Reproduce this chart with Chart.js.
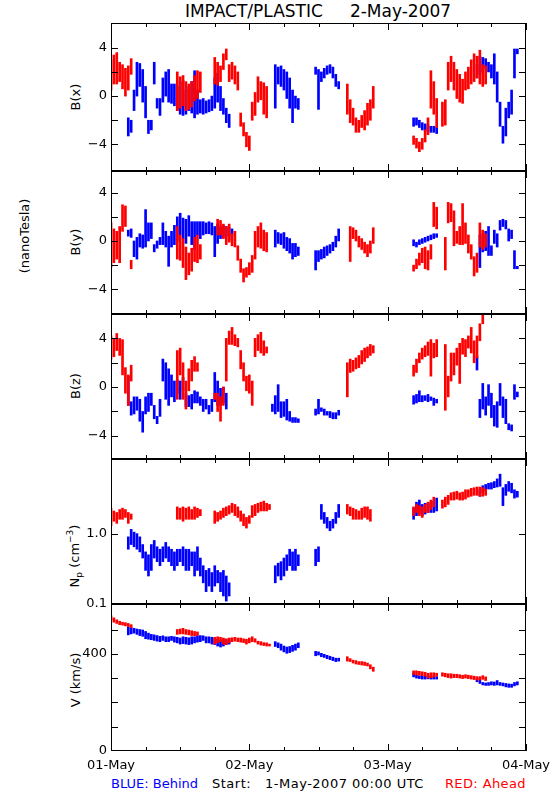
<!DOCTYPE html>
<html><head><meta charset="utf-8">
<script src="https://cdn.jsdelivr.net/npm/chart.js@4/dist/chart.umd.min.js"></script>
<style>
body{margin:0;width:550px;height:800px;background:#fff;position:relative;overflow:hidden;font-family:'DejaVu Sans',sans-serif;}
canvas{position:absolute;left:0;}
.t{position:absolute;white-space:pre;font-size:13px;line-height:1;color:#000;}
.r{transform:translate(-50%,-50%) rotate(-90deg);}
sub,sup{font-size:9px;line-height:0;}
</style></head><body>
<div class="t" id="title" style="left:318px;top:3px;font-size:17px;transform:translateX(-50%);">IMPACT/PLASTIC     2-May-2007</div>
<div class="t r" style="left:75px;top:97px;">B(x)</div>
<div class="t r" style="left:75px;top:242px;">B(y)</div>
<div class="t r" style="left:75px;top:386px;">B(z)</div>
<div class="t r" style="left:74px;top:556px;">N<sub>p</sub> (cm<sup>−3</sup>)</div>
<div class="t r" style="left:75px;top:680px;">V (km/s)</div>
<div class="t r" style="left:24px;top:236px;">(nanoTesla)</div>
<div class="t" style="left:111px;top:777px;color:#0000ff;">BLUE: Behind</div>
<div class="t" style="left:212px;top:777px;letter-spacing:0.5px;">Start:   1-May-2007 00:00 UTC</div>
<div class="t" style="right:24px;top:777px;color:#ff0000;letter-spacing:0.4px;">RED: Ahead</div>
<canvas id="c1"></canvas><canvas id="c2"></canvas><canvas id="c3"></canvas><canvas id="c4"></canvas><canvas id="c5"></canvas>
<script>
// ---- data: [hour since 1-May-2007 00:00, low, high] ----
const bxAhead = [[0,0.5,3.0],[0.5,1.0,3.4],[1,1.0,3.6],[1.5,1.2,2.8],[2,0.6,2.6],[2.5,0,2.3],[3,0.5,2.5],[3.5,1.8,3.1],
[11.5,-1.2,2.0],[12,-1.0,1.6],[12.5,-0.8,1.7],[13,-1.2,1.2],[13.5,-1.1,1.0],[14,-0.9,1.2],[14.5,-0.4,1.7],[15,-0.2,2.1],[15.5,0.3,2.0],
[18,1.0,3.2],[18.5,0.9,2.8],[19,1.2,2.5],[19.5,2.2,3.5],[20,3.0,3.9],[20.5,1.2,2.6],[21,1.4,2.8],[21.5,1.0,2.5],[22,0.5,2.0],[22.5,-2.5,-1.4],[23,-3.3,-2.2],[23.5,-4.2,-3.0],[24,-4.5,-3.3],[24.5,-2.0,-0.5],[25,-1.6,0.3],[25.5,-0.5,1.6],[26,-0.3,1.2],[26.5,-1.5,1.1],[27,-1.8,0.8],
[41,-1.5,1.0],[41.5,-2.2,-0.3],[42,-2.4,-1.0],[42.5,-3.0,-1.8],[43,-3.0,-2.0],[43.5,-2.6,-1.6],[44,-2.8,-1.2],[44.5,-2.4,-0.6],[45,-2.0,-0.3],[45.5,-1.0,0.8],
[52.5,-4.0,-3.3],[53,-4.3,-3.5],[53.5,-4.6,-3.8],[54,-4.4,-3.5],[54.5,-3.8,-2.8],[55,-3.2,-1.8],[55.5,-1.0,2.1],[56,-1.5,1.2],[56.5,-2.6,-0.2],[57.5,-2.5,-0.5],[58,-2.4,-0.3],[58.5,0.5,2.8],[59,1.2,3.3],[59.5,0.5,2.8],[60,-0.2,2.2],[60.5,-0.5,1.8],[61,-0.6,1.4],[61.5,0.5,2.0],[62,0.6,2.4],[62.5,1.0,3.0],[63,1.2,3.5],[63.5,1.5,3.3],[64,1.0,3.8],[64.5,0.8,2.6],[65,1.0,2.5]];
const bxBehind = [[3,-3.3,-1.8],[3.5,-3.0,-2.0],[4,-1.2,0.5],[4.5,0,2.8],[5,0.8,2.7],[5.5,-0.5,2.2],[6,-1.8,0.8],[6.5,-3.1,-2.0],[7,-2.8,-2.0],[7.5,1.0,2.8],[8,-1.0,-0.2],[8.5,-1.6,-0.2],[9,-0.5,1.5],[9.5,0,2.0],[10,-0.5,2.2],[10.5,-0.6,1.0],[11,-0.8,1.0],[11.5,-1.2,0.8],[12,-1.5,1.2],[12.5,-1.6,1.3],[13,-1.5,0.5],[13.5,-1.2,0.8],[14,-1.4,1.2],[14.5,-1.8,2.1],[15,-1.5,0.5],[15.5,-1.4,-0.3],[16,-1.5,-0.2],[16.5,-1.4,-0.4],[17,-1.3,-0.3],[17.5,-1.2,0],[18,-1.0,1.5],[18.5,-0.5,1.9],[19,-1.2,0.8],[19.5,-1.5,-0.2],[20,-2.2,-1.0],[20.5,-2.6,-1.5],
[28.5,-1.0,2.6],[29,1.0,2.4],[29.5,0.8,2.5],[30,0.5,2.2],[30.5,-0.2,2.0],[31,-1.0,1.5],[31.5,-2.2,0.5],[32,-1.0,0],[32.5,-1.1,-0.2],
[35.5,1.8,2.4],[36,-1.1,2.2],[36.5,1.2,2.0],[37,1.5,2.3],[37.5,1.8,2.5],[38,1.9,2.6],[38.5,1.5,2.4],[39,0.8,1.8],[39.5,0.6,1.2],
[52.5,-2.5,-1.8],[53,-2.4,-1.8],[53.5,-2.6,-2.0],[54,-2.8,-2.2],[54.5,-2.9,-2.3],[55,-2.9,-2.4],[55.5,-3.0,-2.5],[56,-3.0,-2.5],[56.5,-3.1,-2.6],
[63.5,1.5,2.6],[64,1.8,3.3],[64.5,2.0,3.2],[65,2.3,3.1],[65.5,2.0,2.8],[66,1.5,2.6],[66.5,1.0,3.5],[67,-0.5,2.0],[67.5,-2.5,-0.5],[68,-3.9,-2.5],[68.5,-3.3,-1.0],[69,-1.8,-0.5],[69.5,-1.5,0.5],[70,1.5,3.9],[70.5,3.5,3.9]];
const byAhead = [[0,-2.2,1.5],[0.5,-1.8,1.0],[1,-1.5,0.8],[1.5,-1.8,1.2],[2,0.8,3.0],[2.5,1.2,2.9],[3.5,-2.3,-1.6],
[11.5,-1.5,1.2],[12,-1.6,0.5],[12.5,-2.2,0.2],[13,-3.2,-0.5],[13.5,-2.8,-1.0],[14,-2.5,-0.6],[14.5,-1.7,0.3],[15,-1.8,0.5],[15.5,-1.5,-0.3],
[18.5,0.5,1.8],[19,0.5,1.7],[19.5,0.2,1.4],[20,-0.3,1.2],[20.5,-0.1,1.4],[21,-0.4,0.6],[21.5,-0.5,0.8],[22,-1.6,-0.4],[22.5,-2.6,-1.5],[23,-3.4,-2.3],[23.5,-3.0,-2.2],[24,-2.8,-1.8],[24.5,-2.6,-1.2],[25,-1.5,0.8],[25.5,-0.5,1.2],[26,-0.6,1.5],[26.5,-0.8,0.9],[27,-0.9,0.7],
[41.5,-1.7,1.2],[42,0.2,1.1],[42.5,0,0.9],[43,-0.5,0.4],[43.5,-0.7,0.2],[44,-1.0,-0.1],[44.5,-1.3,-0.3],[45,-1.0,0],[45.5,-0.2,1.1],
[52.5,-2.5,-2.0],[53,-2.3,-1.5],[53.5,-2.0,-1.0],[54,-1.8,-0.6],[54.5,-2.3,-0.5],[55,-2.4,-0.8],[55.5,-1.5,-0.3],[56,1.2,3.2],[56.5,1.0,2.8],[58,-2.4,0.3],[58.5,1.5,3.2],[59,1.6,3.1],[59.5,-0.4,2.5],[60,-0.2,0.8],[60.5,-0.3,1.2],[61,-0.3,3.1],[61.5,-0.2,1.5],[62,-1.0,0.5],[62.5,-1.5,-0.3],[63,-2.9,-1.3],[63.5,-2.6,-1.0],[64,-0.5,1.5],[64.5,-0.7,0.9],[65,-0.5,0.6]];
const byBehind = [[3,0.4,0.9],[3.5,0.3,1.0],[4,-1.3,0],[4.5,-1.5,0.3],[5,-0.5,0.6],[5.5,-0.6,0.5],[6,-0.5,2.6],[6.5,0,1.5],[7,0.2,1.5],[7.5,-0.9,-0.3],[8,-0.6,0],[8.5,-0.3,0.3],[9,-0.3,1.5],[9.5,-0.5,0.8],[10,-2.1,0.4],[10.5,-0.5,0.8],[11,-0.3,1.3],[11.5,0,2.0],[12,0.5,2.3],[12.5,0.2,1.9],[13,-0.2,1.8],[13.5,0.4,2.1],[14,-0.3,1.6],[14.5,-0.7,1.6],[15,0.5,1.6],[15.5,0.2,1.6],[16,0.5,1.6],[16.5,0.6,1.5],[17,0.6,1.6],[17.5,0.5,1.5],[18,-1.3,1.2],[18.5,-0.2,1.4],[19,0.2,1.2],[19.5,0.3,1.3],[20,0.4,1.2],[20.5,0.1,1.1],[21,0.5,1.0],
[28.5,-0.5,0.9],[29,-0.2,0.7],[29.5,-0.3,0.6],[30,-0.6,0.7],[30.5,-0.8,0.3],[31,-1.0,0.2],[31.5,-1.5,-0.2],[32,-1.3,-0.2],[32.5,-1.2,-0.5],
[35.5,-2.4,-0.8],[36,-1.7,-0.8],[36.5,-1.5,-0.7],[37,-1.4,-0.5],[37.5,-1.2,-0.4],[38,-1.0,-0.3],[38.5,-0.8,-0.1],[39,-0.5,0.4],[39.5,0,1.0],
[52.5,-0.4,0.1],[53,-0.5,-0.1],[53.5,-0.3,0.1],[54,-0.2,0.2],[54.5,-0.1,0.3],[55,0,0.4],[55.5,0.1,0.5],[56,0.2,0.6],[56.5,0.3,0.6],
[64,-2.2,0.5],[64.5,-0.9,0.6],[65,-0.8,0.8],[65.5,-1.2,1.2],[66,-1.2,-0.4],[66.5,-0.2,0.9],[67,-0.5,0.6],[67.5,0.9,1.7],[68,1.2,1.8],[68.5,1.0,1.7],[69,0,1.0],[69.5,0.2,0.9],[70,-2.3,-0.8],[70.5,-2.3,-2.1]];
const bzAhead = [[0,2.3,4.2],[0.5,2.5,4.0],[1,3.0,4.4],[1.5,2.6,4.0],[2,1.0,3.9],[2.5,-0.5,1.6],[3,-1.5,1.0],[3.5,0.5,1.8],
[11.5,-1.0,3.0],[12,1.0,3.2],[12.5,-1.0,2.0],[13,-1.8,0.5],[13.5,-0.3,1.5],[14,0.5,2.2],[14.5,1.3,2.5],[15,1.3,2.0],
[18,-1.0,-0.5],[18.5,-2.0,-0.5],[19,-2.8,-0.8],[19.5,-1.5,0],[20,0.5,4.0],[20.5,3.5,4.6],[21,3.5,4.9],[21.5,3.4,4.3],[22,3.3,4.0],[22.5,1.5,3.0],[23,0.5,2.0],[23.5,-0.3,0.9],[24,-0.5,1.0],[24.5,-1.5,0.5],[25,2.5,4.0],[25.5,3.0,4.3],[26,2.8,4.5],[26.5,2.6,3.8],[27,2.8,3.3],
[41,-0.8,2.0],[41.5,1.2,2.3],[42,1.3,2.2],[42.5,1.5,2.4],[43,1.6,2.6],[43.5,1.9,3.0],[44,2.1,3.2],[44.5,2.4,3.3],[45,2.6,3.5],[45.5,2.8,3.4],
[52.5,0.9,1.8],[53,1.2,2.3],[53.5,2.0,2.8],[54,2.3,3.2],[54.5,2.5,3.4],[55,2.6,3.7],[55.5,0.9,3.9],[56,2.4,3.6],[56.5,2.5,3.9],[58,-1.9,3.5],[58.5,-0.8,0.9],[59,0.5,2.8],[59.5,1.0,2.8],[60,1.8,3.2],[60.5,0.3,3.6],[61,2.7,4.0],[61.5,2.5,3.9],[62,3.2,4.2],[62.5,2.8,4.9],[63,2.0,3.8],[63.5,2.4,4.2],[64,3.8,5.2],[64.5,5.2,6.0]];
const bzBehind = [[3,-1.5,0.9],[3.5,-2.3,-1.2],[4,-2.2,-0.8],[4.5,-1.9,-0.8],[5,-2.8,-1.0],[5.5,-3.7,-2.0],[6,-2.2,-0.8],[6.5,-2.0,-0.5],[7,-1.5,-0.5],[7.5,-2.6,-1.5],[8,-3.0,-2.4],[8.5,-2.4,-1.0],[9,0.5,2.3],[9.5,-1.0,2.0],[10,-1.5,1.5],[10.5,-0.8,1.0],[11,-1.2,0.5],[11.5,-0.5,0.6],[12,-1.0,0.5],[12.5,-0.3,0.8],[13,-1.6,-0.5],[13.5,-1.6,-0.7],[14,-1.8,-0.6],[14.5,-1.3,-0.3],[15,-1.3,-0.4],[15.5,-1.5,-0.8],[16,-2.0,-1.0],[16.5,-1.8,-1.0],[17,-2.2,-1.5],[17.5,-2.0,-1.0],[18,-1.2,1.2],[18.5,-1.5,0.5],[19,-1.5,-0.1],[19.5,-1.3,0],[20,-1.8,-0.5],
[28,-2.0,-1.4],[28.5,-2.2,-0.7],[29,-2.0,0.2],[29.5,-2.5,-1.2],[30,-2.4,-1.2],[30.5,-2.7,-1.0],[31,-2.8,-2.0],[31.5,-2.9,-2.5],[32,-2.9,-2.5],[32.5,-2.9,-2.6],
[35.5,-2.3,-1.8],[36,-2.2,-1.0],[36.5,-2.0,-1.7],[37,-2.3,-1.8],[37.5,-2.3,-2.0],[38,-2.5,-2.0],[38.5,-2.6,-2.1],[39,-2.6,-2.1],[39.5,-2.3,-1.9],
[52.5,-1.4,-0.7],[53,-1.3,-0.6],[53.5,-1.2,-0.3],[54,-1.2,-0.7],[54.5,-1.1,-0.7],[55,-1.2,-0.6],[55.5,-1.1,-0.8],[56,-1.5,-0.9],[56.5,-1.3,-1.0],
[63.5,1.4,2.5],[64,-2.5,-1.0],[64.5,-1.8,0.3],[65,-2.3,-0.8],[65.5,-1.5,0.2],[66,-2.5,-0.5],[66.5,-3.2,-1.5],[67,-3.3,-1.2],[67.5,-1.5,0.3],[68,-2.5,-0.8],[68.5,-3.0,-1.0],[69,-3.5,-3.0],[69.5,-3.6,-3.1],[70,-1.0,0.2],[70.5,-0.8,-0.4]];
const npAhead = [[0,1.3,2.3],[0.5,1.5,2.1],[1,1.4,2.0],[1.5,1.6,2.2],[2,1.6,2.3],[2.5,1.7,2.2],[3,1.4,2.0],[3.5,1.6,1.9],
[11.5,1.6,2.4],[12,1.6,2.3],[12.5,1.5,2.4],[13,1.6,2.3],[13.5,1.6,2.4],[14,1.6,2.2],[14.5,1.6,2.4],[15,1.7,2.3],[15.5,1.8,2.2],
[18,1.4,2.1],[18.5,1.5,2.0],[19,1.6,2.1],[19.5,1.7,2.3],[20,1.8,2.4],[20.5,1.9,2.5],[21,2.0,2.7],[21.5,1.8,2.6],[22,1.7,2.4],[22.5,1.5,2.1],[23,1.3,1.9],[23.5,1.2,1.7],[24,1.4,1.8],[24.5,1.7,2.5],[25,1.8,2.6],[25.5,2.0,2.7],[26,2.1,2.8],[26.5,2.1,2.9],[27,2.1,2.7],[27.5,2.2,2.6],
[41,1.9,2.6],[41.5,1.8,2.4],[42,1.6,2.3],[42.5,1.6,2.2],[43,1.6,2.1],[43.5,1.6,2.3],[44,1.7,2.4],[44.5,1.6,2.4],[45,1.5,2.2],
[52.5,1.8,2.4],[53,2.0,2.6],[53.5,1.8,2.5],[54,1.7,2.4],[54.5,2.0,2.6],[55,2.0,2.8],[55.5,2.2,3.0],[56,2.4,3.3],
[57.5,2.3,3.0],[58,2.4,3.3],[58.5,2.6,3.5],[59,3.0,3.8],[59.5,3.0,3.9],[60,3.1,4.0],[60.5,3.0,3.8],[61,3.0,3.9],[61.5,3.1,4.2],[62,3.3,4.2],[62.5,3.4,4.4],[63,3.5,4.5],[63.5,3.5,4.6],[64,3.4,4.6],[64.5,3.4,4.5],[65,3.5,4.3]];
const npBehind = [[3,0.6,0.9],[3.5,0.7,1.15],[4,0.65,1.05],[4.5,0.6,1.0],[5,0.55,0.9],[5.5,0.45,0.7],[6,0.3,0.55],[6.5,0.25,0.5],[7,0.3,0.7],[7.5,0.45,0.8],[8,0.4,0.65],[8.5,0.35,0.6],[9,0.4,0.65],[9.5,0.45,0.75],[10,0.4,0.65],[10.5,0.35,0.6],[11,0.3,0.55],[11.5,0.35,0.6],[12,0.4,0.6],[12.5,0.35,0.65],[13,0.3,0.6],[13.5,0.3,0.6],[14,0.35,0.55],[14.5,0.25,0.55],[15,0.3,0.65],[15.5,0.25,0.45],[16,0.2,0.35],[16.5,0.15,0.3],[17,0.18,0.32],[17.5,0.15,0.28],[18,0.18,0.35],[18.5,0.2,0.3],[19,0.15,0.28],[19.5,0.13,0.3],[20,0.11,0.25],[20.5,0.13,0.2],
[28.5,0.2,0.35],[29,0.25,0.38],[29.5,0.22,0.4],[30,0.25,0.45],[30.5,0.3,0.5],[31,0.35,0.6],[31.5,0.3,0.55],[32,0.3,0.6],[32.5,0.35,0.5],
[35.5,0.35,0.6],[36,0.4,0.65],[36.5,1.6,2.6],[37,1.4,2.0],[37.5,1.2,1.7],[38,1.1,1.5],[38.5,1.2,1.6],[39,1.4,2.0],[39.5,1.7,2.6],
[52.5,1.6,2.3],[53,1.8,2.8],[53.5,1.9,3.0],[54,1.8,2.6],[54.5,1.9,2.7],[55,2.0,2.7],[55.5,2.0,2.8],[56,2.0,2.9],[56.5,2.1,3.2],
[64,3.4,4.2],[64.5,3.8,4.8],[65,4.0,5.0],[65.5,4.3,5.2],[66,4.3,5.3],[66.5,4.5,5.5],[67,4.6,6.0],[67.5,4.7,7.0],[68,2.5,4.5],[68.5,3.5,5.0],[69,4.0,5.5],[69.5,3.8,5.2],[70,3.2,4.2],[70.5,3.3,4.0]];
const vAhead = [[0,540,556],[0.5,530,548],[1,525,540],[1.5,520,534],[2,518,530],[2.5,515,528],[3,512,525],[3.5,508,520],
[11.5,480,500],[12,482,502],[12.5,482,505],[13,480,500],[13.5,478,498],[14,475,495],[14.5,474,492],[15,476,490],
[18,440,468],[18.5,445,470],[19,450,468],[19.5,440,465],[20,438,462],[20.5,445,465],[21,450,466],[21.5,452,468],[22,450,465],[22.5,448,465],[23,446,462],[23.5,440,460],[24,445,465],[24.5,450,470],[25,448,462],[25.5,440,452],[26,436,450],[26.5,434,446],[27,432,445],[27.5,432,440],
[41,370,388],[41.5,368,380],[42,362,374],[42.5,358,372],[43,356,368],[43.5,354,368],[44,352,366],[44.5,350,362],[45,338,355],[45.5,328,345],
[52.5,315,330],[53,312,330],[53.5,312,328],[54,310,326],[54.5,308,324],[55,300,320],[55.5,302,322],[56,304,322],[56.5,308,320],
[57.5,308,322],[58,305,320],[58.5,302,318],[59,300,318],[59.5,302,316],[60,302,316],[60.5,300,314],[61,298,312],[61.5,300,314],[62,298,312],[62.5,296,310],[63,294,308],[63.5,292,306],[64,292,306],[64.5,295,310],[65,290,305]];
const vBehind = [[3,478,510],[3.5,482,508],[4,485,505],[4.5,480,502],[5,475,500],[5.5,472,498],[6,462,492],[6.5,460,485],[7,458,480],[7.5,455,478],[8,452,475],[8.5,450,472],[9,455,474],[9.5,450,470],[10,450,470],[10.5,455,472],[11,448,470],[11.5,445,468],[12,440,465],[12.5,442,470],[13,440,468],[13.5,438,466],[14,440,470],[14.5,445,470],[15,448,475],[15.5,450,475],[16,455,474],[16.5,445,470],[17,445,470],[17.5,440,468],[18,438,462],[18.5,432,460],[19,428,455],[19.5,432,460],[20,438,458],[20.5,440,462],
[28.5,430,450],[29,425,445],[29.5,415,440],[30,408,432],[30.5,402,428],[31,405,430],[31.5,410,435],[32,415,440],[32.5,425,445],
[35.5,392,410],[36,395,408],[36.5,388,402],[37,385,398],[37.5,380,394],[38,376,390],[38.5,372,386],[39,368,382],[39.5,370,382],
[52.5,305,322],[53,300,312],[53.5,298,310],[54,296,308],[54.5,296,308],[55,297,309],[55.5,296,308],[56,296,306],[56.5,296,306],
[63.5,285,300],[64,278,292],[64.5,272,282],[65,270,280],[65.5,270,282],[66,272,285],[66.5,270,284],[67,272,290],[67.5,270,282],[68,268,280],[68.5,264,278],[69,262,276],[69.5,262,275],[70,268,282],[70.5,272,285]];

// ---- axes ----
const xTickHours = [0,6,12,18,24,30,36,42,48,54,60,66,72];
const dayHours = [0,24,48,72];
const dayLabels = ['01-May','02-May','03-May','04-May'];
const bTicks = [-4,-2,0,2,4];
const bLabels = {'-4':'−4','0':'0','4':'4'};
const npTicks = [1];
const npLabels = {'1':'1.0','0.1':'0.1'};
const vTicks = [100,200,300,400,500];
const vLabels = {'0':'0','400':'400'};

function ds(arr,color){
  return {data:arr.map(d=>({x:d[0],y:[d[1],d[2]]})),backgroundColor:color,borderWidth:0,barThickness:2,grouped:false,minBarLength:1};
}
function framePlugin(ticks,labels,last){
  return {id:'frame',afterDatasetsDraw(chart){
    const c=chart.ctx,a=chart.chartArea,xs=chart.scales.x,ys=chart.scales.y;
    c.save();
    c.strokeStyle='#000';c.lineWidth=1;
    c.strokeRect(a.left+0.5,a.top+0.5,a.right-a.left-1,a.bottom-a.top-1);
    c.beginPath();
    xTickHours.forEach(h=>{
      const x=Math.round(xs.getPixelForValue(h))+0.5;
      const L=dayHours.includes(h)?7:4;
      c.moveTo(x,a.top);c.lineTo(x,a.top+L);
      c.moveTo(x,a.bottom);c.lineTo(x,a.bottom-L);
    });
    ticks.forEach(v=>{
      const y=Math.round(ys.getPixelForValue(v))+0.5;
      c.moveTo(a.left,y);c.lineTo(a.left+7,y);
      c.moveTo(a.right,y);c.lineTo(a.right-7,y);
    });
    c.stroke();
    c.fillStyle='#000';c.font='13px "DejaVu Sans"';c.textAlign='right';c.textBaseline='middle';
    Object.keys(labels).forEach(k=>{
      c.fillText(labels[k],a.left-4,ys.getPixelForValue(parseFloat(k)));
    });
    if(last){
      c.textAlign='center';c.textBaseline='middle';
      dayHours.forEach((h,i)=>c.fillText(dayLabels[i],xs.getPixelForValue(h),a.bottom+15));
    }
    c.restore();
  }};
}
function panel(id,top,bottom,yCfg,ahead,behind,ticks,labels,last){
  const pad=12,padB=last?40:12;
  const cv=document.getElementById(id);
  cv.width=550;cv.height=Math.round(bottom-top)+pad+padB;cv.style.top=(top-pad)+'px';
  new Chart(cv,{type:'bar',
    data:{datasets:[ds(ahead,'#ff0000'),ds(behind,'#0000ff')]},
    options:{responsive:false,animation:false,events:[],
      layout:{padding:{left:111,right:24,top:pad,bottom:padB}},
      scales:{x:{type:'linear',min:0,max:72,offset:false,display:false},y:Object.assign({display:false},yCfg)},
      plugins:{legend:{display:false},tooltip:{enabled:false}}},
    plugins:[framePlugin(ticks,labels,last)]});
}
panel('c1',23,171,{type:'linear',min:-6.2,max:6.05},bxAhead,bxBehind,bTicks,bLabels,false);
panel('c2',171,314,{type:'linear',min:-6.05,max:5.8},byAhead,byBehind,bTicks,bLabels,false);
panel('c3',314,459,{type:'linear',min:-5.9,max:6.0},bzAhead,bzBehind,bTicks,bLabels,false);
panel('c4',459,604,{type:'logarithmic',min:0.1,max:11.5},npAhead,npBehind,npTicks,npLabels,false);
panel('c5',604,751,{type:'linear',min:0,max:605},vAhead,vBehind,vTicks,vLabels,true);
</script>
</body></html>
